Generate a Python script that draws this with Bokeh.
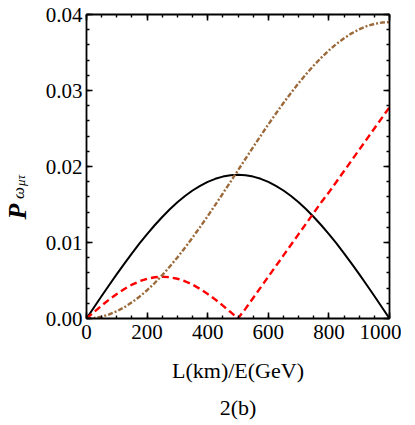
import math
from bokeh.plotting import figure
from bokeh.layouts import row
from bokeh.models import (Range1d, LinearAxis, SingleIntervalTicker, PrintfTickFormatter,
                          CustomJSTickFormatter, Title)
from bokeh.core.properties import value
from bokeh.embed import file_html
from bokeh.resources import INLINE

# L/E grid (km/GeV)
L_over_E = [0, 25, 50, 75, 100, 125, 150, 175, 200, 225, 250, 275, 300, 325, 350, 375,
            400, 425, 450, 475, 500, 525, 550, 575, 600, 625, 650, 675, 700, 725, 750,
            775, 800, 825, 850, 875, 900, 925, 950, 975, 1000]

# black solid curve
p_black = [0, 0.00148, 0.00296, 0.00441, 0.00584, 0.00723, 0.00858, 0.00988, 0.01111,
           0.01227, 0.01336, 0.01437, 0.01529, 0.01611, 0.01684, 0.01746, 0.01798, 0.01838,
           0.01867, 0.01884, 0.0189, 0.01884, 0.01867, 0.01838, 0.01798, 0.01746, 0.01684,
           0.01611, 0.01529, 0.01437, 0.01336, 0.01227, 0.01111, 0.00988, 0.00858, 0.00723,
           0.00584, 0.00441, 0.00296, 0.00148, 0]

# red dashed curve
p_red = [0, 0.00086, 0.0017, 0.0025, 0.00323, 0.00389, 0.00445, 0.0049, 0.00523, 0.00543,
         0.0055, 0.00543, 0.00523, 0.0049, 0.00445, 0.00389, 0.00323, 0.0025, 0.0017,
         0.00086, 0, 0.0013, 0.0027, 0.0041, 0.0055, 0.0069, 0.0083, 0.0097, 0.0111,
         0.0125, 0.0139, 0.0153, 0.0166, 0.018, 0.0194, 0.0208, 0.0222, 0.0236, 0.025,
         0.0264, 0.0278]

# brown dot-dashed curve
p_brown = [0, 0.00006, 0.00024, 0.00054, 0.00095, 0.00148, 0.00213, 0.00287, 0.00372,
           0.00467, 0.00571, 0.00684, 0.00804, 0.00931, 0.01065, 0.01204, 0.01347, 0.01495,
           0.01645, 0.01797, 0.0195, 0.02103, 0.02255, 0.02405, 0.02553, 0.02696, 0.02835,
           0.02969, 0.03096, 0.03216, 0.03329, 0.03433, 0.03528, 0.03613, 0.03687, 0.03752,
           0.03805, 0.03846, 0.03876, 0.03894, 0.039]

x_label = "L(km)/E(GeV)"
caption = "2(b)"
y_label_parts = ["P", "ω", "μτ"]
FONT = "Liberation Serif"

H = 418
LAB_W = 40

p = figure(frame_width=303, frame_height=304,
           x_range=Range1d(0, 1000), y_range=Range1d(0, 0.04),
           output_backend="svg", toolbar_location=None,
           min_border_left=86 - LAB_W, min_border_right=12, min_border_top=14,
           min_border_bottom=100, x_axis_label=x_label)
p.grid.visible = False
p.outline_line_color = None
p.background_fill_color = "white"
p.border_fill_color = "white"

p.line(L_over_E, p_black, line_color="black", line_width=2)
p.line(L_over_E, p_red, line_color="#ff0000", line_width=2.4, line_dash="7 4")
p.line(L_over_E, p_brown, line_color="#9c6a3a", line_width=2.4, line_dash="5 2 2 2")

def style(ax, show_labels=True):
    ax.axis_line_width = 1.8
    ax.axis_line_color = "black"
    ax.major_tick_in = 6
    ax.major_tick_out = 0
    ax.minor_tick_in = 3
    ax.minor_tick_out = 0
    ax.major_tick_line_width = 1.6
    ax.minor_tick_line_width = 1.4
    ax.major_tick_line_color = "black"
    ax.minor_tick_line_color = "black"
    ax.major_label_text_font = FONT
    ax.major_label_text_color = "black"
    ax.major_label_text_font_size = "21px"
    if not show_labels:
        ax.formatter = CustomJSTickFormatter(code="return ''")
        ax.major_label_standoff = 0

xb = p.xaxis[0]
xb.ticker = SingleIntervalTicker(interval=200, num_minor_ticks=4)
style(xb)
xb.major_label_standoff = 6
xb.axis_label_text_font = FONT
xb.axis_label_text_font_size = "22px"
xb.axis_label_text_font_style = "normal"
xb.axis_label_text_color = "black"
xb.axis_label_standoff = 16

yl = p.yaxis[0]
yl.ticker = SingleIntervalTicker(interval=0.01, num_minor_ticks=5)
yl.formatter = PrintfTickFormatter(format="%.2f")
style(yl)
yl.major_label_standoff = 4

xt = LinearAxis(ticker=SingleIntervalTicker(interval=200, num_minor_ticks=4))
style(xt, show_labels=False)
p.add_layout(xt, "above")
yr = LinearAxis(ticker=SingleIntervalTicker(interval=0.01, num_minor_ticks=5))
style(yr, show_labels=False)
p.add_layout(yr, "right")

p.add_layout(Title(text=caption, align="center", text_font=FONT, text_font_size="22px",
                   text_font_style="normal", text_color="black", standoff=14), "below")

# narrow panel holding the rotated y-axis label P_{omega_{mu tau}}
lab = figure(frame_width=LAB_W, frame_height=H, x_range=Range1d(0, LAB_W),
             y_range=Range1d(0, H), output_backend="svg", toolbar_location=None,
             x_axis_type=None, y_axis_type=None, min_border=0)
lab.grid.visible = False
lab.outline_line_color = None
lab.border_fill_color = "white"
lab.background_fill_color = "white"
# text centres given in panel pixels (x from left, y from bottom)
lab.text(x=[16.5], y=[H - 197], text=[y_label_parts[0]], angle=math.pi / 2,
         text_font=value(FONT), text_font_style="bold italic", text_font_size="26px",
         text_align="center", text_baseline="middle", text_color="black")
lab.text(x=[17.5], y=[H - 178.5], text=[y_label_parts[1]], angle=math.pi / 2,
         text_font=value(FONT), text_font_style="italic", text_font_size="17px",
         text_align="center", text_baseline="middle", text_color="black")
lab.text(x=[20], y=[H - 166], text=[y_label_parts[2]], angle=math.pi / 2,
         text_font=value(FONT), text_font_style="italic", text_font_size="13px",
         text_align="center", text_baseline="middle", text_color="black")

layout = row(lab, p, spacing=0)
open("out.html", "w").write(file_html(layout, INLINE))
